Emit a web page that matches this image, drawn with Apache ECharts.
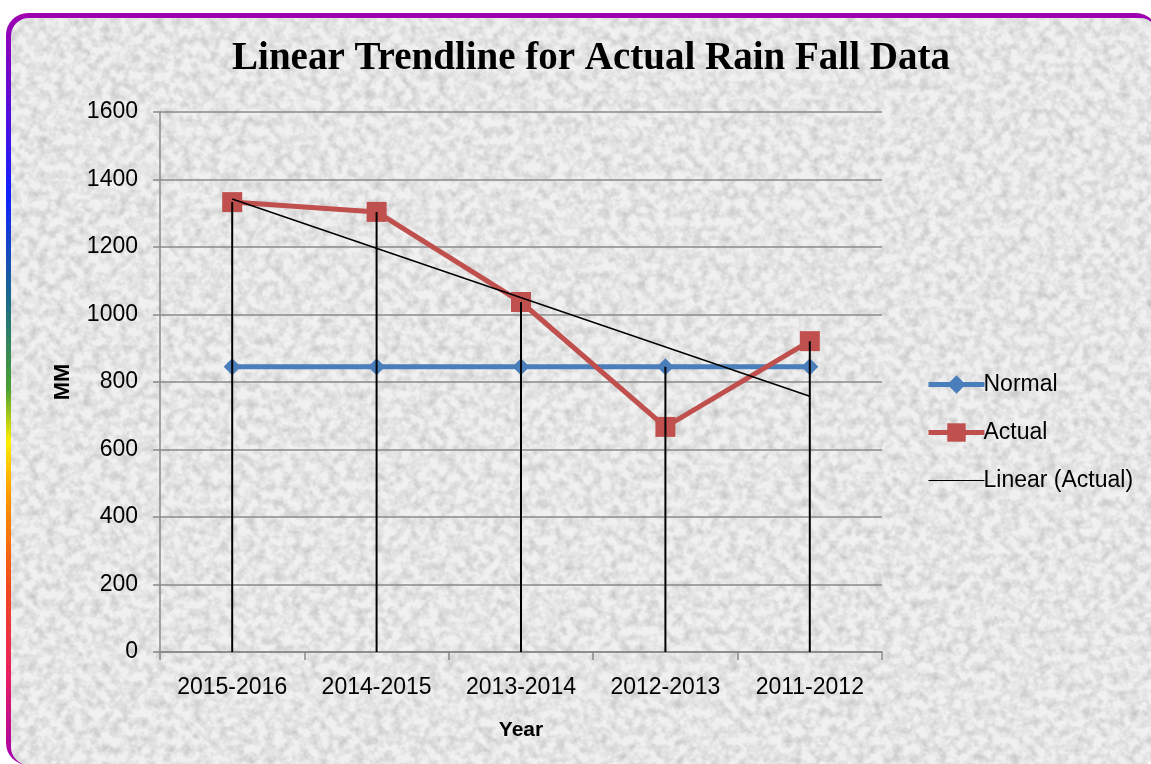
<!DOCTYPE html>
<html>
<head>
<meta charset="utf-8">
<script src="https://cdn.jsdelivr.net/npm/echarts@6/dist/echarts.min.js"></script>
<style>
  html, body { margin: 0; padding: 0; background: #fff; width: 1151px; height: 764px; overflow: hidden; }
  .frame {
    position: absolute; left: 6px; top: 13px; width: 1152px; height: 752px;
    border-radius: 22px;
    background: linear-gradient(to bottom, #a000b0 0%, #4a10e0 15%, #1020ff 24%, #1a6a8a 38%, #4aa030 50%, #ffee00 57%, #ff9a00 64%, #f04a1a 76%, #e82060 88%, #a000b0 100%);
  }
  .paper {
    position: absolute; left: 5px; top: 5px; right: 0; bottom: 0;
    border-radius: 18px;
    background-color: #ebebeb;
    background-repeat: no-repeat;
    background-image: url("data:image/svg+xml;utf8,<svg xmlns='http://www.w3.org/2000/svg' width='1200' height='800'><filter id='n'><feTurbulence type='fractalNoise' baseFrequency='0.11' numOctaves='3' seed='7'/><feColorMatrix values='0 0 0 0 0  0 0 0 0 0  0 0 0 0 0  1.4 0 0 0 -0.5'/></filter><rect width='100%' height='100%' fill='%23f0f0f0'/><rect width='100%' height='100%' filter='url(%23n)' opacity='0.22'/></svg>");
  }
  #chart { position: absolute; left: 0; top: 0; width: 1151px; height: 764px; }
</style>
</head>
<body>
<div class="frame"><div class="paper"></div></div>
<div id="chart"></div>
<script>
// values
const years = ["2015-2016", "2014-2015", "2013-2014", "2012-2013", "2011-2012"];
const normal = [845, 845, 845, 845, 845];
const actual = [1333, 1304, 1037, 667, 921];
// trendline end points (Linear (Actual))
const trend = [1342, null, null, null, 758];
const yTicks = [0, 200, 400, 600, 800, 1000, 1200, 1400, 1600];

// drop lines go from the highest point at each category down to the axis
const dropTops = years.map((_, i) => Math.max(normal[i], actual[i]));

const chart = echarts.init(document.getElementById("chart"));
const labelFont = "'Liberation Sans', Arial, sans-serif";

chart.setOption({
  backgroundColor: "transparent",
  animation: false,
  title: {
    text: "Linear Trendline for Actual Rain Fall Data",
    left: 586,
    textAlign: "center",
    top: 34,
    textStyle: { fontFamily: "'Liberation Serif', serif", fontWeight: "bold", fontSize: 39, color: "#000" }
  },
  grid: { left: 160, right: 269, top: 112, bottom: 112 },
  legend: {
    orient: "vertical",
    left: 921,
    top: 368,
    itemWidth: 56,
    itemHeight: 23,
    itemGap: 25,
    data: [
      { name: "Normal", lineStyle: { width: 5 } },
      { name: "Actual", lineStyle: { width: 5 } },
      { name: "Linear (Actual)", icon: "path://M0,0H56V1H0Z", lineStyle: { width: 1.5 } }
    ],
    textStyle: { fontFamily: labelFont, fontSize: 23, lineHeight: 23, color: "#000", padding: [0, 0, 0, -6] }
  },
  xAxis: {
    type: "category",
    data: years,
    boundaryGap: true,
    name: "Year",
    nameLocation: "middle",
    nameGap: 68,
    nameTextStyle: { fontFamily: labelFont, fontWeight: "bold", fontSize: 21, color: "#000" },
    axisLine: { lineStyle: { color: "#888", width: 1.5 } },
    axisTick: { show: true, length: 8, lineStyle: { color: "#888", width: 1.5 } },
    axisLabel: { margin: 24, fontFamily: labelFont, fontSize: 23, color: "#000" }
  },
  yAxis: {
    type: "value",
    min: yTicks[0],
    max: yTicks[yTicks.length - 1],
    interval: 200,
    name: "MM",
    nameLocation: "middle",
    nameGap: 86,
    nameRotate: 90,
    nameTextStyle: { fontFamily: labelFont, fontWeight: "bold", fontSize: 22, color: "#000" },
    axisLine: { show: true, lineStyle: { color: "#888", width: 1.5 } },
    axisTick: { show: true, length: 7, lineStyle: { color: "#888", width: 1.5 } },
    axisLabel: { margin: 22, fontFamily: labelFont, fontSize: 23, color: "#000", formatter: v => String(v) },
    splitLine: { lineStyle: { color: "#8a8a8a", width: 1.5 } }
  },
  series: [
    {
      name: "Normal",
      type: "line",
      data: normal,
      symbol: "diamond",
      symbolSize: [17, 17],
      lineStyle: { color: "#4a7ebb", width: 5 },
      itemStyle: { color: "#4a7ebb" },
      z: 3
    },
    {
      name: "Actual",
      type: "line",
      data: actual,
      symbol: "rect",
      symbolSize: 20,
      lineStyle: { color: "#c0504d", width: 5 },
      itemStyle: { color: "#c0504d" },
      z: 4
    },
    {
      name: "Linear (Actual)",
      type: "line",
      data: trend,
      connectNulls: true,
      symbol: "none",
      lineStyle: { color: "#000", width: 1.5 },
      itemStyle: { color: "#000" },
      z: 5
    },
    {
      name: "drop",
      type: "bar",
      data: dropTops,
      barWidth: 2,
      itemStyle: { color: "#000" },
      silent: true,
      z: 6
    }
  ]
});
</script>
</body>
</html>
